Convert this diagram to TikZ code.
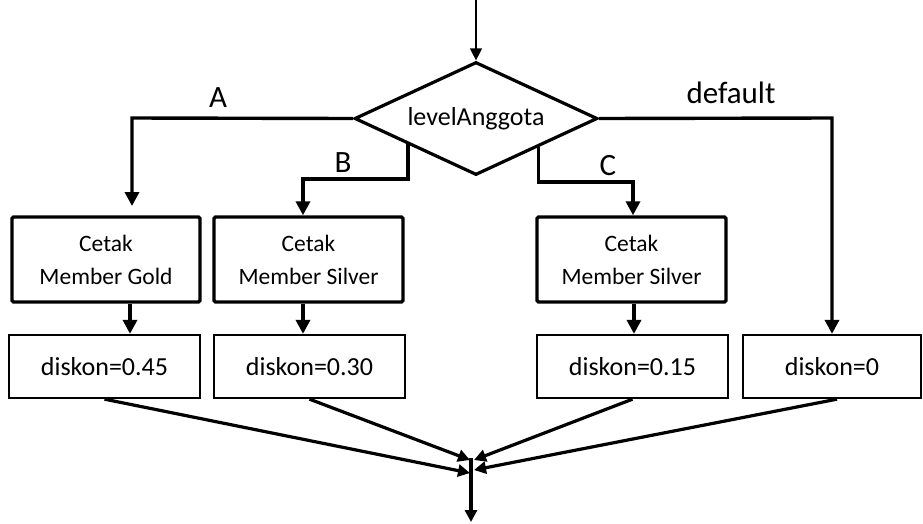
\documentclass[tikz,border=0pt]{standalone}
\usepackage{fontspec}
\setmainfont{Carlito}
\usetikzlibrary{shapes.geometric,arrows.meta,calc}
\begin{document}
\begin{tikzpicture}[x=1pt,y=-1pt,
  decision/.style={diamond, draw, line width=3.2pt, shape aspect=2.15,
    minimum width=243pt, minimum height=113pt, inner sep=0pt,
    font=\fontsize{26}{30}\selectfont},
  printbox/.style={draw, line width=3.4pt, rounded corners=1.5pt,
    minimum height=85pt, inner sep=0pt, align=center,
    font=\fontsize{23.5}{33}\selectfont},
  assignbox/.style={draw, line width=2.3pt, minimum height=63pt,
    inner sep=0pt, font=\fontsize{26}{30}\selectfont},
  lbl/.style={inner sep=0pt, font=\fontsize{31}{35}\selectfont},
  flow/.style={line width=3.4pt, -{Triangle[length=14pt,width=14pt]}},
  merge/.style={line width=3.2pt, -{Triangle[length=12pt,width=12pt]}},
  entry/.style={line width=1.2pt, -{Triangle[length=12pt,width=12pt]}}]

\useasboundingbox (0,0) rectangle (923,523);

% switch on levelAnggota
\node[decision] (dec) at (476,118.5) {levelAnggota};

% printing boxes
\node[printbox, minimum width=188pt] (c1) at (106,259.5) {Cetak\\Member Gold};
\node[printbox, minimum width=189pt] (c2) at (308.5,259.5) {Cetak\\Member Silver};
\node[printbox, minimum width=189pt] (c3) at (631.5,259.5) {Cetak\\Member Silver};

% discount assignments
\node[assignbox, minimum width=191pt] (d1) at (104.5,366.5) {diskon=0.45};
\node[assignbox, minimum width=191pt] (d2) at (309.5,366.5) {diskon=0.30};
\node[assignbox, minimum width=191pt] (d3) at (632.5,366.5) {diskon=0.15};
\node[assignbox, minimum width=178pt] (d4) at (832,366.5) {diskon=0};

% case labels
\node[lbl] (la) at (218,98) {A};
\node[lbl] (lb) at (343,163) {B};
\node[lbl] (lc) at (608,166) {C};
\node[lbl] (ld) at (731,93) {default};

% routing points
\coordinate (start) at (476,0);
\coordinate (colA) at (132,118);
\coordinate (tipA) at (132,206);
\coordinate (bStart) at ($(dec.west)!0.446!(dec.south)$);
\coordinate (colB) at (303,179);
\coordinate (cStart) at ($(dec.south)!0.508!(dec.east)$);
\coordinate (colC) at (633,182);
\coordinate (colD) at (832,118);
\coordinate (k1) at (130,0);
\coordinate (k2) at (303,0);
\coordinate (k3) at (634,0);
\coordinate (j) at (471,458);
\coordinate (jEnd) at (471,522);
\coordinate (e1) at (470,473);
\coordinate (e2) at (470,460);
\coordinate (e3) at (474,460);
\coordinate (e4) at (474,470);

% entry
\draw[entry] (start) -- (dec.north);

% branches
\draw[flow] (dec.west) -- (colA) -- (tipA);
\draw[flow] (bStart) |- (colB) -- (c2.north -| colB);
\draw[flow] (cStart) |- (colC) -- (c3.north -| colC);
\draw[flow] (dec.east) -- (colD) -- (d4.north -| colD);

% print then assign
\draw[flow] (c1.south -| k1) -- (d1.north -| k1);
\draw[flow] (c2.south -| k2) -- (d2.north -| k2);
\draw[flow] (c3.south -| k3) -- (d3.north -| k3);

% merge
\draw[merge] (d1.south) -- (e1);
\draw[merge] (d2.south) -- (e2);
\draw[merge] (d3.south) -- (e3);
\draw[merge] ([xshift=5pt]d4.south) -- (e4);
\draw[merge] (j) -- (jEnd);
\end{tikzpicture}
\end{document}
